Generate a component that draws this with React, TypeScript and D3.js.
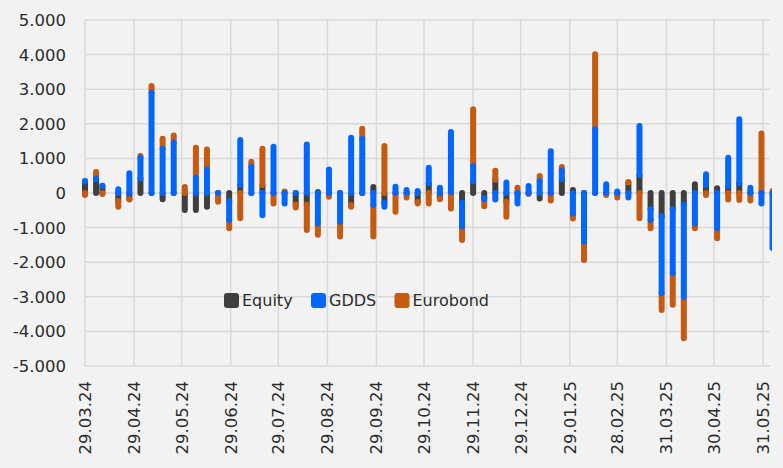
import React from "react";
import * as d3 from "d3";

const dates = ["29.03.24","05.04.24","09.04.24","19.04.24","26.04.24","03.05.24","10.05.24","17.05.24","24.05.24","31.05.24","07.06.24","14.06.24","21.06.24","28.06.24","05.07.24","12.07.24","19.07.24","26.07.24","02.08.24","09.08.24","16.08.24","23.08.24","30.08.24","06.09.24","13.09.24","20.09.24","27.09.24","04.10.24","11.10.24","18.10.24","25.10.24","01.11.24","08.11.24","15.11.24","22.11.24","29.11.24","06.12.24","13.12.24","20.12.24","27.12.24","03.01.25","10.01.25","17.01.25","24.01.25","31.01.25","07.02.25","14.02.25","21.02.25","28.02.25","07.03.25","14.03.25","21.03.25","28.03.25","04.04.25","11.04.25","18.04.25","25.04.25","02.05.25","09.05.25","16.05.25","23.05.25","30.05.25","06.06.25"];

const equity: (number | null)[] = [330,400,200,-230,-170,420,0,-180,0,-490,-490,-400,0,-230,230,0,230,0,0,-330,-330,30,0,0,-350,0,170,-280,0,0,-260,280,-160,20,-280,330,-150,380,-250,0,0,-160,0,400,90,0,0,0,0,300,520,-470,-670,-470,-330,250,230,140,200,280,0,0,0];

const gdds: (number | null)[] = [20,20,10,110,570,600,2900,1280,1450,null,440,680,0,-550,1300,760,-640,1340,-300,0,1400,-880,680,-830,1600,1570,-350,-120,180,90,60,450,150,1740,-690,450,-30,-185,300,-300,200,350,1210,240,-590,-1410,1840,250,40,-130,1420,-310,-2230,-1850,-2670,-880,310,-1020,820,1850,150,-300,-1600];

const eurobond: (number | null)[] = [-60,190,-30,-165,-20,50,190,290,210,170,870,580,-250,-240,-730,140,1050,-300,40,-90,-740,-330,-110,-430,-45,290,-910,1360,-540,-130,-40,-300,-20,-445,-390,1640,-200,260,-435,150,-30,140,-220,110,-145,-530,2170,-60,-130,20,-730,-240,-480,-910,-1200,-140,-60,-290,-185,-200,-220,1720,60];

const tickLabels = ["29.03.24","29.04.24","29.05.24","29.06.24","29.07.24","29.08.24","29.09.24","29.10.24","29.11.24","29.12.24","29.01.25","28.02.25","31.03.25","30.04.25","31.05.25"];

const yTicks = [5000,4000,3000,2000,1000,0,-1000,-2000,-3000,-4000,-5000];

const seriesNames = ["Equity","GDDS","Eurobond"];
const seriesColors = ["#3f3f3f","#0066ff","#c55a11"];

function parseDate(s: string): Date {
  const [d, m, y] = s.split(".").map(Number);
  return new Date(2000 + y, m - 1, d);
}

const fmt = d3.formatLocale({ decimal: ",", thousands: ".", grouping: [3], currency: ["", ""], minus: "-" }).format(",");

export default function App() {
  const W = 783, H = 468;
  const left = 85, right = 770.3, top = 20, bottom = 366;
  const x = d3.scaleTime()
    .domain([new Date(2024, 2, 29), new Date(2025, 5, 4, 14)])
    .range([left, right]);
  const y = d3.scaleLinear().domain([-5000, 5000]).range([bottom, top]);

  const keys = ["equity", "gdds", "eurobond"];
  const raw = [equity, gdds, eurobond];
  const rows = dates.map((d, i) => ({
    date: parseDate(d),
    equity: equity[i] ?? 0,
    gdds: gdds[i] ?? 0,
    eurobond: eurobond[i] ?? 0,
  }));
  const stacked = d3.stack<any>().keys(keys).offset(d3.stackOffsetDiverging)(rows);
  const drawOrder = [0, 2, 1];
  const barW = 6;
  const cap = 3;
  const font = "'DejaVu Sans', sans-serif";
  const fs = 16.5;

  const legendItems = [
    { name: seriesNames[0], color: seriesColors[0], sx: 224, tx: 242 },
    { name: seriesNames[1], color: seriesColors[1], sx: 311, tx: 329 },
    { name: seriesNames[2], color: seriesColors[2], sx: 394.5, tx: 412.5 },
  ];

  return (
    <svg width={W} height={H} style={{ position: "absolute", left: 0, top: 0, background: "#f2f2f2" }}>
      <rect x={0} y={0} width={W} height={H} fill="#f2f2f2" />
      <defs>
        <clipPath id="plotclip">
          <rect x={0} y={0} width={772} height={H} />
        </clipPath>
      </defs>
      {yTicks.map((t) => (
        <line key={"h" + t} x1={left} x2={770} y1={y(t)} y2={y(t)} stroke="#d9d9d9" strokeWidth={1.5} />
      ))}
      {tickLabels.map((t) => (
        <line key={"v" + t} x1={x(parseDate(t))} x2={x(parseDate(t))} y1={top} y2={bottom} stroke="#d9d9d9" strokeWidth={1.5} />
      ))}
      <g clipPath="url(#plotclip)">
        {drawOrder.map((si) =>
          stacked[si].map((seg, i) => {
            if (raw[si][i] === null) return null;
            const cx = x(rows[i].date);
            const ya = y(seg[0]);
            const yb = y(seg[1]);
            const y0 = Math.min(ya, yb) - cap;
            const h = Math.abs(ya - yb) + 2 * cap;
            return (
              <rect key={si + "-" + i} x={cx - barW / 2} y={y0} width={barW} height={h} rx={3} ry={3} fill={seriesColors[si]} />
            );
          })
        )}
      </g>
      {yTicks.map((t) => (
        <text key={"yl" + t} x={66} y={y(t)} dy="0.36em" textAnchor="end" fontFamily={font} fontSize={fs} fill="#2b2b2b">
          {fmt(t)}
        </text>
      ))}
      {tickLabels.map((t) => (
        <text key={"xl" + t} transform={`translate(${x(parseDate(t))},381) rotate(-90)`} dy="0.36em" textAnchor="end" fontFamily={font} fontSize={fs} fill="#2b2b2b">
          {t}
        </text>
      ))}
      {legendItems.map((l) => (
        <g key={l.name}>
          <rect x={l.sx} y={293} width={15} height={15} rx={3} fill={l.color} />
          <text x={l.tx} y={306} fontFamily={font} fontSize={16} fill="#2b2b2b">{l.name}</text>
        </g>
      ))}
    </svg>
  );
}
